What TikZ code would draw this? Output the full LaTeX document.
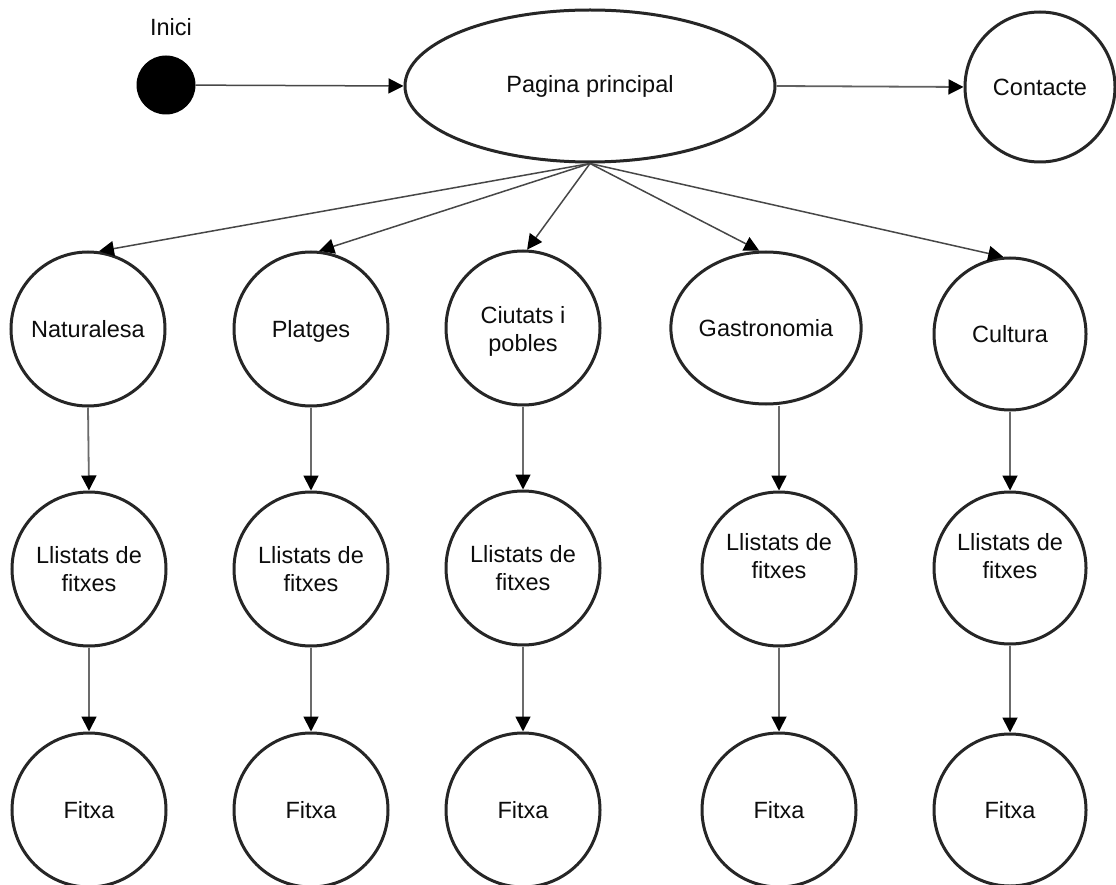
\documentclass[tikz,border=0pt]{standalone}
\usepackage{fontspec}
\setmainfont{Liberation Sans}
\usetikzlibrary{shapes.geometric,arrows.meta}
\begin{document}
\begin{tikzpicture}[x=1pt,y=-1pt,
  every node/.style={font=\fontsize{23.5}{28}\selectfont, text=black!95},
  circ/.style={circle, draw=black!85, line width=3pt, minimum size=154pt, inner sep=0pt, align=center},
  ell/.style={ellipse, draw=black!85, line width=3pt, inner sep=0pt, align=center},
  tip/.style={-{Triangle[length=15pt,width=15pt,color=black]}},
  darr/.style={tip, draw=black!72, line width=1.5pt},
  varr/.style={tip, draw=black!58, line width=1.8pt},
  lbltxt/.style={font=\fontsize{23.5}{28}\selectfont, align=center}
]
\useasboundingbox (0,0) rectangle (1116,885);
\fill[white] (0,0) rectangle (1116,885);

% top row
\node[circle, fill=black, draw=black, line width=1pt, minimum size=58pt, inner sep=0pt] (dot) at (166,85) {};
\node (inici) at (171,27) {Inici};
\node[ell, minimum width=370pt, minimum height=152pt] (main) at (590,86) {Pagina principal};
\node[circ, minimum size=150pt] (cont) at (1040,87) {Contacte};

% second row
\node[circ] (nat) at (88,329) {Naturalesa};
\node[circ, label={[lbltxt, yshift=-2pt]center:Platges}] (pla) at (311,329) {};
\node[circ, label={[lbltxt, yshift=-3pt]center:Ciutats i\\pobles}] (ciu) at (523,328) {};
\node[ell, minimum width=182pt, minimum height=152pt] (gas) at (766,328) {Gastronomia};
\node[circ, minimum size=152pt] (cul) at (1010,334) {Cultura};

% third row
\node[circ] (natl) at (89,569) {Llistats de\\fitxes};
\node[circ] (plal) at (311,569) {Llistats de\\fitxes};
\node[circ] (ciul) at (523,568) {Llistats de\\fitxes};
\node[circ, label={[lbltxt, yshift=13pt]center:Llistats de\\fitxes}] (gasl) at (779,569) {};
\node[circ, minimum size=152pt, label={[lbltxt, yshift=12pt]center:Llistats de\\fitxes}] (cull) at (1010,568) {};

% fourth row
\node[circ] (natf) at (89,810) {Fitxa};
\node[circ] (plaf) at (311,810) {Fitxa};
\node[circ] (ciuf) at (523,810) {Fitxa};
\node[circ] (gasf) at (779,810) {Fitxa};
\node[circ, minimum size=152pt] (culf) at (1010,810) {Fitxa};

% connectors
\draw[darr] (dot) -- (main.west);
\draw[varr, draw=black!62] (main.east) -- (cont.west);
\draw[darr] (main.south) -- (nat.82);
\draw[darr] (main.south) -- (pla.84);
\draw[darr] (main.south) -- (ciu.87);
\draw[darr] (main.south) -- (gas.95);
\draw[darr] (main.south) -- (cul.95);

\draw[varr] (nat.south) -- (natl.north);
\draw[varr] (pla.south) -- (plal.north);
\draw[varr] (ciu.south) -- (ciul.north);
\draw[varr] (gasl.north |- gas.south) -- (gasl.north);
\draw[varr] (cul.south) -- (cull.north);

\draw[varr] (natl.south) -- (natf.north);
\draw[varr] (plal.south) -- (plaf.north);
\draw[varr] (ciul.south) -- (ciuf.north);
\draw[varr] (gasl.south) -- (gasf.north);
\draw[varr] (cull.south) -- (culf.north);
\end{tikzpicture}
\end{document}
